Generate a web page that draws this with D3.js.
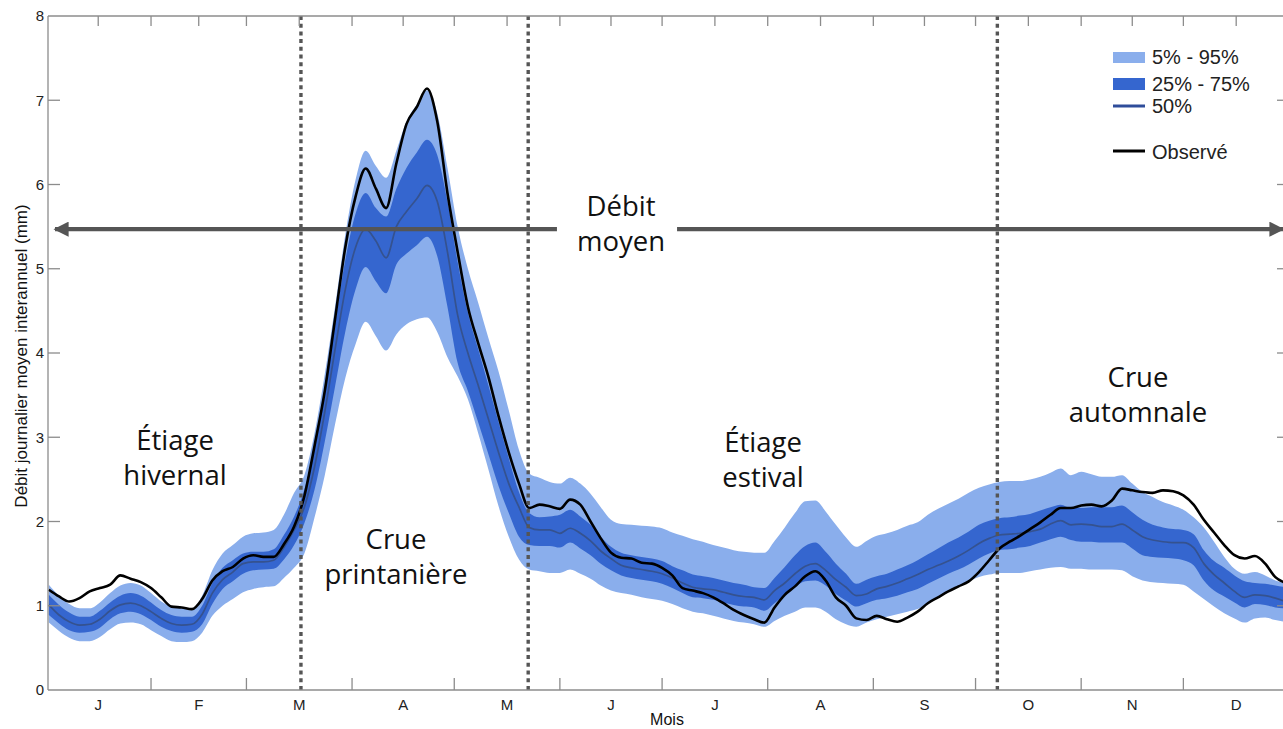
<!DOCTYPE html>
<html lang="fr">
<head>
<meta charset="utf-8">
<title>Débit journalier moyen interannuel</title>
<script src="https://cdn.jsdelivr.net/npm/d3@7"></script>
<style>
  html, body { margin: 0; padding: 0; background: #ffffff; }
  svg { display: block; }
</style>
</head>
<body>
<svg id="chart" width="1283" height="729"></svg>
<script>
// Jour de l'année (1 = 1er janvier), un point tous les 3 jours
const jours = d3.range(122).map(k => 2 + 3 * k);

// Quantiles simulés du débit journalier (mm)
const q05 = [
  0.80,0.70,0.62,0.58,0.58,0.63,0.72,0.79,0.80,0.78,0.71,0.64,0.58,0.57,0.58,0.68,0.88,1.00,1.08,1.16,
  1.20,1.22,1.23,1.33,1.45,1.62,2.05,2.55,3.15,3.70,4.10,4.37,4.20,4.03,4.22,4.34,4.40,4.42,4.25,3.95,
  3.72,3.45,3.05,2.62,2.18,1.82,1.55,1.43,1.41,1.39,1.39,1.43,1.38,1.32,1.24,1.18,1.15,1.13,1.10,1.08,
  1.06,1.02,0.97,0.93,0.91,0.88,0.85,0.82,0.80,0.78,0.75,0.82,0.88,0.93,0.98,0.98,0.93,0.84,0.78,0.75,
  0.80,0.84,0.87,0.90,0.93,0.96,1.03,1.10,1.16,1.23,1.29,1.34,1.37,1.39,1.39,1.39,1.41,1.43,1.45,1.46,
  1.44,1.44,1.43,1.43,1.43,1.42,1.35,1.30,1.28,1.27,1.26,1.25,1.17,1.08,0.99,0.91,0.85,0.80,0.85,0.86,
  0.83,0.81
];
const q25 = [
  0.89,0.79,0.71,0.68,0.69,0.74,0.84,0.91,0.93,0.90,0.83,0.75,0.70,0.68,0.69,0.78,1.02,1.20,1.29,1.38,
  1.42,1.43,1.44,1.55,1.72,1.98,2.38,2.95,3.60,4.25,4.75,5.02,4.85,4.71,5.05,5.18,5.28,5.38,5.15,4.55,
  3.88,3.55,3.18,2.80,2.42,2.10,1.82,1.72,1.71,1.71,1.69,1.75,1.68,1.60,1.50,1.42,1.36,1.33,1.31,1.29,
  1.26,1.21,1.15,1.10,1.09,1.07,1.04,1.01,0.99,0.98,0.94,1.03,1.13,1.22,1.29,1.30,1.24,1.14,1.06,0.99,
  1.03,1.07,1.09,1.12,1.16,1.20,1.26,1.32,1.38,1.43,1.49,1.56,1.62,1.66,1.67,1.69,1.71,1.75,1.79,1.82,
  1.78,1.76,1.76,1.75,1.75,1.75,1.68,1.60,1.58,1.57,1.56,1.54,1.48,1.30,1.18,1.11,1.04,0.98,1.02,1.01,
  0.98,0.97
];
const q50 = [
  1.01,0.89,0.81,0.77,0.78,0.84,0.94,1.01,1.03,1.00,0.93,0.85,0.79,0.77,0.78,0.90,1.15,1.31,1.40,1.50,
  1.52,1.52,1.54,1.69,1.90,2.17,2.65,3.30,4.04,4.75,5.25,5.47,5.33,5.13,5.50,5.68,5.83,5.99,5.80,5.20,
  4.45,4.00,3.62,3.22,2.82,2.45,2.17,1.93,1.90,1.90,1.86,1.92,1.86,1.77,1.65,1.56,1.48,1.45,1.43,1.41,
  1.38,1.33,1.27,1.22,1.20,1.19,1.16,1.13,1.11,1.10,1.07,1.18,1.27,1.38,1.47,1.50,1.42,1.31,1.22,1.12,
  1.14,1.20,1.23,1.27,1.32,1.37,1.43,1.48,1.53,1.59,1.66,1.74,1.80,1.84,1.85,1.86,1.88,1.91,1.97,2.01,
  1.96,1.97,1.96,1.94,1.94,1.97,1.90,1.82,1.78,1.76,1.75,1.75,1.69,1.50,1.37,1.27,1.17,1.10,1.13,1.12,
  1.09,1.05
];
const q75 = [
  1.13,1.01,0.92,0.87,0.87,0.94,1.04,1.12,1.15,1.12,1.04,0.95,0.89,0.87,0.87,1.00,1.27,1.45,1.54,1.62,
  1.64,1.64,1.67,1.84,2.06,2.38,2.90,3.60,4.35,5.10,5.65,5.90,5.72,5.62,5.95,6.20,6.38,6.53,6.35,5.80,
  5.08,4.48,4.05,3.62,3.18,2.75,2.35,2.10,2.05,2.06,2.08,2.14,2.06,1.96,1.82,1.70,1.63,1.60,1.58,1.56,
  1.53,1.47,1.42,1.37,1.35,1.33,1.30,1.27,1.25,1.22,1.21,1.33,1.46,1.60,1.71,1.75,1.64,1.50,1.38,1.26,
  1.31,1.35,1.38,1.43,1.48,1.54,1.61,1.68,1.75,1.81,1.88,1.96,2.01,2.04,2.05,2.07,2.09,2.13,2.17,2.20,
  2.16,2.16,2.17,2.17,2.17,2.19,2.11,2.02,1.96,1.93,1.91,1.90,1.85,1.66,1.53,1.45,1.36,1.29,1.27,1.26,
  1.24,1.22
];
const q95 = [
  1.25,1.12,1.02,0.97,0.97,1.04,1.15,1.24,1.27,1.24,1.15,1.05,0.99,0.97,0.97,1.12,1.42,1.62,1.72,1.82,
  1.86,1.87,1.90,2.08,2.34,2.55,3.05,3.75,4.55,5.40,6.05,6.40,6.22,6.08,6.40,6.75,6.95,7.12,6.85,6.20,
  5.50,5.00,4.60,4.18,3.78,3.32,2.85,2.57,2.52,2.47,2.45,2.52,2.45,2.33,2.17,2.02,1.97,1.96,1.95,1.94,
  1.92,1.87,1.83,1.79,1.76,1.72,1.69,1.66,1.64,1.63,1.63,1.77,1.93,2.10,2.24,2.25,2.12,1.96,1.81,1.70,
  1.77,1.83,1.86,1.90,1.95,1.99,2.08,2.15,2.21,2.27,2.34,2.40,2.44,2.47,2.48,2.48,2.50,2.53,2.58,2.63,
  2.55,2.59,2.56,2.53,2.53,2.55,2.45,2.35,2.29,2.23,2.19,2.14,2.05,1.93,1.76,1.58,1.44,1.38,1.40,1.36,
  1.30,1.27
];
// Débit observé (mm)
const observe = [
  1.19,1.11,1.05,1.09,1.17,1.21,1.25,1.36,1.32,1.28,1.21,1.10,0.99,0.98,0.96,1.08,1.30,1.41,1.46,1.56,
  1.60,1.58,1.58,1.73,1.94,2.30,2.90,3.55,4.40,5.25,5.85,6.19,5.95,5.72,6.25,6.72,6.92,7.14,6.75,5.90,
  5.20,4.55,4.12,3.72,3.25,2.82,2.45,2.16,2.20,2.18,2.15,2.26,2.20,2.00,1.80,1.63,1.57,1.56,1.51,1.50,
  1.45,1.36,1.21,1.18,1.15,1.10,1.03,0.95,0.89,0.84,0.80,0.98,1.13,1.23,1.35,1.41,1.30,1.10,1.00,0.85,
  0.83,0.88,0.84,0.81,0.86,0.93,1.03,1.10,1.17,1.23,1.29,1.40,1.54,1.68,1.76,1.83,1.91,1.99,2.08,2.16,
  2.16,2.19,2.20,2.18,2.25,2.39,2.37,2.35,2.34,2.37,2.36,2.31,2.20,2.02,1.87,1.72,1.60,1.56,1.59,1.50,
  1.34,1.27
];

// Axe des mois
const moisLettres = ["J","F","M","A","M","J","J","A","S","O","N","D"];
const debutsMois = [1,32,60,91,121,152,182,213,244,274,305,335,366];
const yTicks = [0,1,2,3,4,5,6,7,8];

// Limites des saisons hydrologiques (jour de l'année) et débit moyen (mm)
const limitesSaisons = [76, 142.7, 280.4];
const debitMoyen = 5.47;

const legendeItems = ["5% - 95%", "25% - 75%", "50%", "Observé"];

// ---------------------------------------------------------------
const W = 1283, H = 729;
const plot = { left: 48, right: 1289, top: 16, bottom: 690 };
const colLight = "#8aaeec", colDark = "#3566cf", colMed = "#35528f";
const colFrame = "#8c8c8c", colGuide = "#555555";
const fontAxis = "'Liberation Sans', Arial, Helvetica, sans-serif";
const fontNote = "'Open Sans', 'Noto Sans', sans-serif";

const svg = d3.select("#chart");
const x = d3.scaleLinear().domain([1.76, 366]).range([plot.left, plot.right]);
const y = d3.scaleLinear().domain([0, 8]).range([plot.bottom, plot.top]);

svg.append("defs").append("clipPath").attr("id", "zone")
  .append("rect").attr("x", plot.left).attr("y", plot.top)
  .attr("width", plot.right - plot.left).attr("height", plot.bottom - plot.top);

const rows = jours.map((j, i) => ({ j, q05: q05[i], q25: q25[i], q50: q50[i], q75: q75[i], q95: q95[i], obs: observe[i] }));
const curve = d3.curveMonotoneX;
const g = svg.append("g").attr("clip-path", "url(#zone)");

g.append("path").datum(rows).attr("fill", colLight)
  .attr("d", d3.area().curve(curve).x(d => x(d.j)).y0(d => y(d.q05)).y1(d => y(d.q95)));
g.append("path").datum(rows).attr("fill", colDark)
  .attr("d", d3.area().curve(curve).x(d => x(d.j)).y0(d => y(d.q25)).y1(d => y(d.q75)));
g.append("path").datum(rows).attr("fill", "none").attr("stroke", colMed).attr("stroke-width", 1.7)
  .attr("d", d3.line().curve(curve).x(d => x(d.j)).y(d => y(d.q50)));
g.append("path").datum(rows).attr("fill", "none").attr("stroke", "#000").attr("stroke-width", 2.6)
  .attr("stroke-linejoin", "round")
  .attr("d", d3.line().curve(curve).x(d => x(d.j)).y(d => y(d.obs)));

// Limites de saisons en pointillé
svg.append("g").selectAll("line").data(limitesSaisons).join("line")
  .attr("x1", d => x(d)).attr("x2", d => x(d))
  .attr("y1", plot.top).attr("y2", plot.bottom)
  .attr("stroke", colGuide).attr("stroke-width", 3.4).attr("stroke-dasharray", "4,3.7");

// Cadre et graduations
const frame = svg.append("g").attr("stroke", colFrame).attr("stroke-width", 1.3).attr("fill", "none");
frame.append("line").attr("x1", plot.left).attr("x2", plot.left).attr("y1", plot.top).attr("y2", plot.bottom);
frame.append("line").attr("x1", plot.left).attr("x2", plot.right).attr("y1", plot.bottom).attr("y2", plot.bottom);
frame.append("line").attr("x1", plot.left).attr("x2", plot.right).attr("y1", plot.top).attr("y2", plot.top);
frame.append("line").attr("x1", plot.right).attr("x2", plot.right).attr("y1", plot.top).attr("y2", plot.bottom);

const tickLen = 12;
frame.selectAll(".yl").data(yTicks.slice(1, -1)).join("line").attr("class", "yl")
  .attr("x1", plot.left).attr("x2", plot.left + tickLen).attr("y1", d => y(d)).attr("y2", d => y(d));
frame.selectAll(".yr").data(yTicks.slice(1, -1)).join("line").attr("class", "yr")
  .attr("x1", plot.right).attr("x2", plot.right - tickLen).attr("y1", d => y(d)).attr("y2", d => y(d));
const bornes = debutsMois.slice(1, -1);
const milieux = moisLettres.map((m, i) => (debutsMois[i] + debutsMois[i + 1]) / 2);
frame.selectAll(".xb").data(bornes).join("line").attr("class", "xb")
  .attr("x1", d => x(d)).attr("x2", d => x(d)).attr("y1", plot.bottom).attr("y2", plot.bottom - tickLen);
frame.selectAll(".xt").data(bornes.concat(milieux)).join("line").attr("class", "xt")
  .attr("x1", d => x(d)).attr("x2", d => x(d)).attr("y1", plot.top).attr("y2", plot.top + 10);

svg.append("g").selectAll("text").data(yTicks).join("text")
  .attr("x", plot.left - 4).attr("y", d => y(d)).attr("dy", "0.36em")
  .attr("text-anchor", "end").attr("font-family", fontAxis).attr("font-size", 15).attr("fill", "#222")
  .text(d => d);
svg.append("g").selectAll("text").data(milieux).join("text")
  .attr("x", d => x(d)).attr("y", 710)
  .attr("text-anchor", "middle").attr("font-family", fontAxis).attr("font-size", 15).attr("fill", "#222")
  .text((d, i) => moisLettres[i]);
svg.append("text").attr("x", 667).attr("y", 725).attr("text-anchor", "middle")
  .attr("font-family", fontAxis).attr("font-size", 16).attr("fill", "#111").text("Mois");
svg.append("text").attr("transform", "translate(27,356) rotate(-90)").attr("text-anchor", "middle")
  .attr("font-family", fontAxis).attr("font-size", 17).attr("fill", "#111")
  .text("Débit journalier moyen interannuel (mm)");

// Flèche du débit moyen, interrompue par son libellé
const defs = svg.select("defs");
defs.append("marker").attr("id", "pointe").attr("viewBox", "0 0 10 10").attr("refX", 9).attr("refY", 5)
  .attr("markerWidth", 4.2).attr("markerHeight", 3.6).attr("orient", "auto-start-reverse")
  .attr("markerUnits", "strokeWidth")
  .append("path").attr("d", "M0,0 L10,5 L0,10 Z").attr("fill", colGuide);
const yMoy = y(debitMoyen);
const label = svg.append("text").attr("text-anchor", "middle").attr("font-family", fontNote)
  .attr("font-size", 27.5).attr("fill", "#111");
label.append("tspan").attr("x", 621).attr("y", 216).text("Débit");
label.append("tspan").attr("x", 621).attr("y", 251).text("moyen");
const bb = label.node().getBBox();
svg.append("line").attr("x1", bb.x - 20).attr("x2", plot.left + 7).attr("y1", yMoy).attr("y2", yMoy)
  .attr("stroke", colGuide).attr("stroke-width", 4.2).attr("marker-end", "url(#pointe)");
svg.append("line").attr("x1", bb.x + bb.width + 12).attr("x2", W).attr("y1", yMoy).attr("y2", yMoy)
  .attr("stroke", colGuide).attr("stroke-width", 4.2).attr("marker-end", "url(#pointe)");

// Libellés des saisons
const notes = [
  { lignes: ["Étiage", "hivernal"], cx: 175, y0: 450 },
  { lignes: ["Crue", "printanière"], cx: 396, y0: 549 },
  { lignes: ["Étiage", "estival"], cx: 763, y0: 452 },
  { lignes: ["Crue", "automnale"], cx: 1138, y0: 387 }
];
notes.forEach(n => {
  const t = svg.append("text").attr("text-anchor", "middle").attr("font-family", fontNote)
    .attr("font-size", 27.5).attr("fill", "#111");
  n.lignes.forEach((l, i) => t.append("tspan").attr("x", n.cx).attr("y", n.y0 + i * 35).text(l));
});

// Légende
const leg = svg.append("g").attr("font-family", fontAxis).attr("font-size", 20).attr("fill", "#222");
leg.append("rect").attr("x", 1113).attr("y", 52).attr("width", 32).attr("height", 11).attr("fill", colLight);
leg.append("rect").attr("x", 1113).attr("y", 78).attr("width", 32).attr("height", 12).attr("fill", colDark);
leg.append("line").attr("x1", 1113).attr("x2", 1145).attr("y1", 106).attr("y2", 106)
  .attr("stroke", "#2f4d9a").attr("stroke-width", 3);
leg.append("line").attr("x1", 1113).attr("x2", 1145).attr("y1", 151).attr("y2", 151)
  .attr("stroke", "#000").attr("stroke-width", 3);
[64, 91, 113, 159].forEach((yy, i) =>
  leg.append("text").attr("x", 1152).attr("y", yy).text(legendeItems[i]));
</script>
</body>
</html>
